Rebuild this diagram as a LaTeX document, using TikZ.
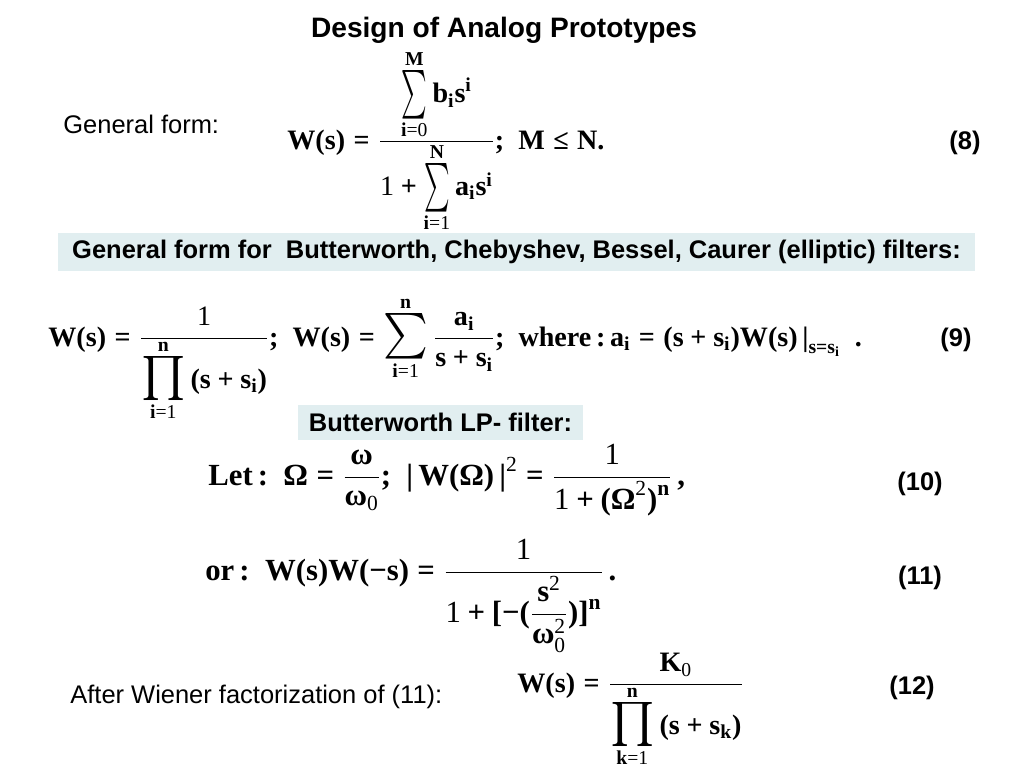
\documentclass[tikz,border=0pt]{standalone}
\usepackage{amsmath}
\usepackage{graphicx}
\usepackage{fontspec}
\setmainfont{Liberation Serif}
\setsansfont{Liberation Sans}
\newcommand\bx[1]{\text{\bfseries #1}}
\newcommand\rx[1]{\text{#1}}
\newcommand\Eq{\mathrel{\bx{=}}}
\newcommand\Pl{\mathbin{\bx{+}}}
% big operator with tight limits: xscale, yscale, symbol, upper, lower
\newcommand\stackop[5]{\mathop{\vcenter{\offinterlineskip\halign{\hfil##\hfil\cr
  $\scriptstyle#4$\cr\noalign{\kern2.6pt}
  \scalebox{#1}[#2]{$\textstyle#3$}\cr\noalign{\kern2.6pt}
  $\scriptstyle#5$\cr}}}}
\newcommand\om{\bx{ω}}
\definecolor{boxfill}{HTML}{E1EEF0}
\tikzset{
  txt/.style={font=\sffamily\fontsize{14.5}{17}\selectfont, inner sep=0pt},
  hdr/.style={font=\sffamily\bfseries\fontsize{14.5}{17}\selectfont, inner sep=0pt},
  eqnum/.style={hdr, anchor=center},
  mth/.style={font=\fontsize{16}{19}\selectfont, inner sep=0pt, anchor=base west},
  bigmth/.style={mth, font=\fontsize{17.5}{21}\selectfont},
  band/.style={hdr, fill=boxfill, anchor=center}
}
\begin{document}
\begin{tikzpicture}[x=0.02cm, y=-0.02cm]
  \useasboundingbox (0,0) rectangle (1024,768);
  \node[hdr, font=\sffamily\bfseries\fontsize{16}{19}\selectfont] (title) at (504,30) {Design of Analog Prototypes};
  % general form
  \node[txt, anchor=west] (genform) at (63,124) {General form:};
  \node[mth] (eq8) at (287,149) {$\bx{W(s)}\Eq\dfrac{\stackop{0.8}{1.6}{\sum}{\bx{M}}{\bx{i}\rx{=0}}\bx{b}_{\bx{i}}\bx{s}^{\bx{i}}}{\rx{1}\Pl\stackop{0.8}{1.6}{\sum}{\bx{N}}{\bx{i}\rx{=1}}\bx{a}_{\bx{i}}\bx{s}^{\bx{i}}}\bx{;}\ \ \bx{M}\mathrel{\bx{≤}}\bx{N.}$};
  \node[eqnum] (n8) at (965,143) {(8)};
  \node[band, minimum width=18.34cm, minimum height=0.76cm] (filters) at (516.5,252)
    {General form for\ \ Butterworth, Chebyshev, Bessel, Caurer (elliptic) filters:};
  % butterworth, chebyshev ...
  \node[mth] (eq9) at (48,346) {$\bx{W(s)}\Eq\dfrac{\rx{1}}{\stackop{1.55}{1.45}{\prod}{\bx{n}}{\bx{i}\rx{=1}}\bx{(s}\Pl\bx{s}_{\bx{i}}\bx{)}}\bx{;}\ \ \bx{W(s)}\Eq\stackop{1.4}{1.5}{\sum}{\bx{n}}{\bx{i}\rx{=1}}\dfrac{\bx{a}_{\bx{i}}}{\bx{s}\Pl\bx{s}_{\bx{i}}}\bx{;}\ \ \bx{where\,:\,a}_{\bx{i}}\Eq\bx{(s}\Pl\bx{s}_{\bx{i}}\bx{)W(s)\,|}_{\bx{s=s}_{\bx{i}}}\ \ \bx{.}$};
  \node[eqnum] (n9) at (956,340) {(9)};
  \node[band, minimum width=5.7cm, minimum height=0.7cm] (lpfilter) at (440.5,422.5) {Butterworth LP- filter:};
  % lp filter
  \node[bigmth] (eq10) at (208,485) {$\bx{Let\,:}\ \ \bx{Ω}\Eq\dfrac{\om}{\om_{\rx{0}}}\bx{;}\ \ \bx{|\,W(Ω)\,|}^{\rx{2}}\Eq\dfrac{\rx{1}}{\rx{1}\Pl\bx{(Ω}^{\rx{2}}\bx{)}^{\bx{n}}}\,\bx{,}$};
  \node[eqnum] (n10) at (920,484) {(10)};
  \node[bigmth] (eq11) at (205,580) {$\bx{or\,:}\ \ \bx{W(s)W(−s)}\Eq\dfrac{\rx{1}}{\rx{1}\Pl\bx{[−(}\dfrac{\bx{s}^{\rx{2}}}{\om_{\rx{0}}^{\rx{2}}}\bx{)]}^{\bx{n}}}\,\bx{.}$};
  \node[eqnum] (n11) at (920,578) {(11)};
  \node[txt, anchor=west] (wiener) at (70,697) {After Wiener factorization of (11):};
  \node[mth] (eq12) at (517,692) {$\bx{W(s)}\Eq\dfrac{\bx{K}_{\rx{0}}}{\stackop{1.55}{1.45}{\prod}{\bx{n}}{\bx{k}\rx{=1}}\bx{(s}\Pl\bx{s}_{\bx{k}}\bx{)}}$};
  \node[eqnum] (n12) at (912,688) {(12)};
\end{tikzpicture}
\end{document}
